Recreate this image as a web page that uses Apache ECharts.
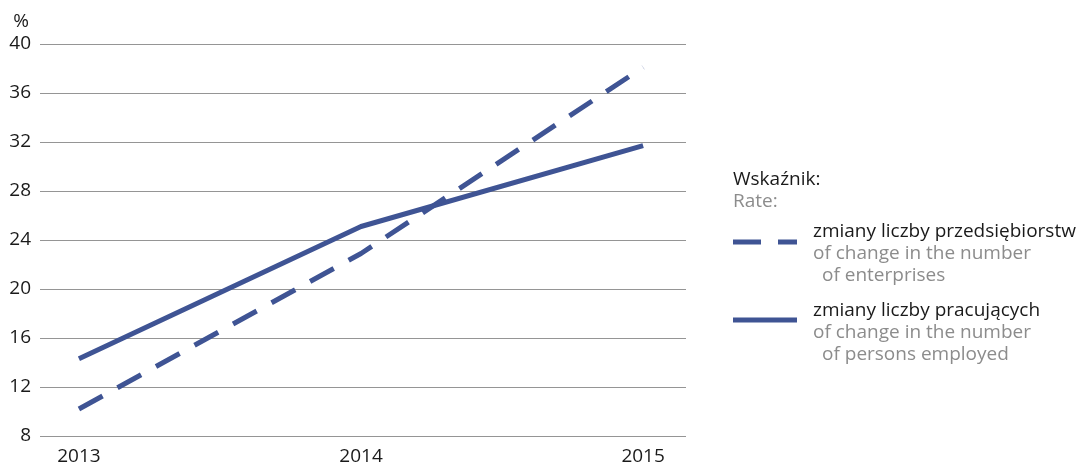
<!DOCTYPE html>
<html>
<head>
<meta charset="utf-8">
<script src="https://cdn.jsdelivr.net/npm/echarts@6/dist/echarts.min.js"></script>
<style>
html,body{margin:0;padding:0;background:#fff;}
#c{width:1081px;height:468px;}
</style>
</head>
<body>
<div id="c"></div>
<script>
const years = [2013, 2014, 2015];
const yearLabels = ['2013', '2014', '2015'];
const enterprises = [10.2, 22.9, 38.1];
const employed = [14.3, 25.1, 31.7];
const yTicks = [8, 12, 16, 20, 24, 28, 32, 36, 40];

const FONT = '"Open Sans", "Noto Sans", sans-serif';
const FS = 19;
const BLUE = '#3f5494';
const DARK = '#1a1a1a';
const GREY = '#8c8c8c';

const chart = echarts.init(document.getElementById('c'), null, {renderer: 'canvas'});

const pairs = (vals) => years.map((y, i) => [y, vals[i]]);
const txt = (x, y, text, color) => ({
  type: 'text', x: x, y: y,
  style: {text: text, fill: color, font: FS + 'px ' + FONT, verticalAlign: 'middle', align: 'left'}
});

chart.setOption({
  animation: false,
  backgroundColor: '#fff',
  grid: {left: 40, right: 395, top: 44, bottom: 32, containLabel: false},
  xAxis: {
    type: 'value',
    min: 2012.862,
    max: 2015.152,
    axisLine: {show: false},
    axisTick: {show: false},
    splitLine: {show: false},
    axisLabel: {
      customValues: years,
      formatter: (v) => yearLabels[years.indexOf(v)] || '',
      color: DARK, fontSize: FS, fontFamily: FONT, margin: 11
    }
  },
  yAxis: {
    type: 'value',
    min: yTicks[0],
    max: yTicks[yTicks.length - 1],
    interval: 4,
    name: '%',
    nameLocation: 'end',
    nameGap: 13,
    nameTextStyle: {color: DARK, fontSize: FS, fontFamily: FONT, align: 'right', padding: [0, 11, 0, 0]},
    axisLine: {show: false},
    axisTick: {show: false},
    axisLabel: {color: DARK, fontSize: FS, fontFamily: FONT, margin: 9},
    splitLine: {lineStyle: {color: '#959595', width: 1}}
  },
  series: [
    {
      name: 'zmiany liczby przedsiębiorstw',
      type: 'line',
      data: pairs(enterprises),
      symbol: 'none',
      lineStyle: {color: BLUE, width: 5, type: [27, 17], cap: 'butt'},
      z: 3
    },
    {
      name: 'zmiany liczby pracujących',
      type: 'line',
      data: pairs(employed),
      symbol: 'none',
      lineStyle: {color: BLUE, width: 5, type: 'solid', cap: 'butt'},
      z: 2
    }
  ],
  graphic: [
    txt(733, 180, 'Wskaźnik:', DARK),
    txt(733, 202, 'Rate:', GREY),
    {type: 'line', shape: {x1: 733, y1: 242, x2: 797, y2: 242}, style: {stroke: BLUE, lineWidth: 5, lineDash: [28, 17]}},
    txt(813, 232, 'zmiany liczby przedsiębiorstw', DARK),
    txt(813, 254, 'of change in the number', GREY),
    txt(822, 276, 'of enterprises', GREY),
    {type: 'line', shape: {x1: 733, y1: 320, x2: 797, y2: 320}, style: {stroke: BLUE, lineWidth: 5}},
    txt(813, 311, 'zmiany liczby pracujących', DARK),
    txt(813, 333, 'of change in the number', GREY),
    txt(822, 355, 'of persons employed', GREY)
  ]
});
</script>
</body>
</html>
